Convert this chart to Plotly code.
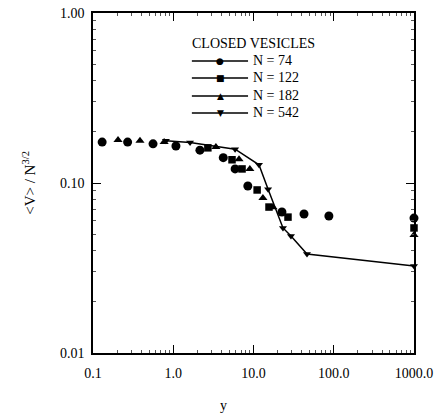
import plotly.graph_objects as go

# ---- data ----
n74_x = [0.13, 0.27, 0.56, 1.08, 2.15, 4.2, 5.9, 8.5, 22.6, 42.6, 87, 1000]
n74_y = [0.174, 0.174, 0.170, 0.165, 0.156, 0.141, 0.121, 0.096, 0.0675, 0.0657, 0.064, 0.0622]

n122_x = [2.7, 5.4, 7.2, 11.1, 15.6, 26.9, 1000]
n122_y = [0.161, 0.137, 0.121, 0.091, 0.0722, 0.063, 0.0544]

n182_x = [0.205, 0.385, 0.77, 3.4, 6.6, 9.0, 13.1, 17.5, 1000]
n182_y = [0.179, 0.177, 0.174, 0.163, 0.138, 0.121, 0.0816, 0.072, 0.0495]

n542_x = [0.81, 1.62, 5.9, 11.7, 15.2, 23.3, 29.3, 46.4, 1000]
n542_y = [0.177, 0.173, 0.158, 0.128, 0.092, 0.0544, 0.0488, 0.0382, 0.0325]

x_tickvals = [0.1, 1, 10, 100, 1000]
x_ticktext = ["0.1", "1.0", "10.0", "100.0", "1000.0"]
y_tickvals = [0.01, 0.1, 1]
y_ticktext = ["0.01", "0.10", "1.00"]

x_minor = [m * 10 ** e for e in range(-1, 3) for m in range(2, 10)]
y_minor = [m * 10 ** e for e in range(-2, 0) for m in range(2, 10)]

x_title = "y"
y_title = "&lt;V&gt; / N<sup>3/2</sup>"

legend_title = "CLOSED VESICLES"
legend_labels = ["N = 74", "N = 122", "N = 182", "N = 542"]
legend_glyphs = ["\u25CF", "\u25A0", "\u25B2", "\u25BC"]

FONT = "Liberation Serif"

fig = go.Figure()
fig.add_trace(go.Scatter(x=n74_x, y=n74_y, mode="markers", name=legend_labels[0],
                         marker=dict(symbol="circle", size=9, color="black"), cliponaxis=False))
fig.add_trace(go.Scatter(x=n122_x, y=n122_y, mode="markers", name=legend_labels[1],
                         marker=dict(symbol="square", size=7.5, color="black"), cliponaxis=False))
fig.add_trace(go.Scatter(x=n182_x, y=n182_y, mode="markers", name=legend_labels[2],
                         marker=dict(symbol="triangle-up", size=8, color="black"), cliponaxis=False))
fig.add_trace(go.Scatter(x=n542_x, y=n542_y, mode="lines+markers", name=legend_labels[3],
                         line=dict(color="black", width=1.5),
                         marker=dict(symbol="triangle-down", size=7, color="black"), cliponaxis=False))

# ---- manual legend (lines with centered marker glyphs) ----
leg_x0, leg_x1, leg_xm, leg_xt = 0.308, 0.483, 0.396, 0.492
leg_ys = [0.859, 0.809, 0.756, 0.706]
fig.add_annotation(x=0.303, y=0.909, xref="paper", yref="paper", text=legend_title,
                   showarrow=False, xanchor="left", yanchor="middle",
                   font=dict(family=FONT, size=14, color="black"))
for lab, gl, yy in zip(legend_labels, legend_glyphs, leg_ys):
    fig.add_shape(type="line", xref="paper", yref="paper", x0=leg_x0, x1=leg_x1, y0=yy, y1=yy,
                  line=dict(color="black", width=1.5))
    fig.add_annotation(x=leg_xm, y=yy, xref="paper", yref="paper", text=gl, showarrow=False,
                       xanchor="center", yanchor="middle",
                       font=dict(family="DejaVu Sans", size=9, color="black"))
    fig.add_annotation(x=leg_xt, y=yy, xref="paper", yref="paper", text=lab, showarrow=False,
                       xanchor="left", yanchor="middle",
                       font=dict(family=FONT, size=14, color="black"))

# axis titles as annotations for exact placement
fig.add_annotation(x=0.408, y=-0.155, xref="paper", yref="paper", text=x_title, showarrow=False,
                   xanchor="center", yanchor="middle", font=dict(family=FONT, size=14, color="black"))
fig.add_annotation(x=-0.2, y=0.5, xref="paper", yref="paper", text=y_title, showarrow=False,
                   textangle=-90, xanchor="center", yanchor="middle",
                   font=dict(family=FONT, size=15, color="black"))

axis_common = dict(showline=True, linecolor="black", linewidth=1.5, mirror="ticks",
                   ticks="inside", ticklen=8, tickwidth=1, tickcolor="black",
                   showgrid=False, zeroline=False, automargin=False,
                   tickfont=dict(family=FONT, size=14, color="black"))

fig.update_xaxes(type="log", range=[-1, 3], tickmode="array", tickvals=x_tickvals,
                 ticktext=x_ticktext, ticklabelstandoff=6,
                 minor=dict(ticks="inside", ticklen=3, tickcolor="#555", tickwidth=1,
                            tickmode="array", tickvals=x_minor),
                 **axis_common)
fig.update_yaxes(type="log", range=[-2, 0], tickmode="array", tickvals=y_tickvals,
                 ticktext=y_ticktext, ticklabelstandoff=4,
                 minor=dict(ticks="inside", ticklen=3, tickcolor="#555", tickwidth=1,
                            tickmode="array", tickvals=y_minor),
                 **axis_common)

fig.update_layout(width=444, height=414, margin=dict(l=93, r=30, t=13, b=61, autoexpand=False),
                  paper_bgcolor="white", plot_bgcolor="white", showlegend=False,
                  font=dict(family=FONT, color="black"))

fig.write_html("out.html", config={"displayModeBar": False},
               post_script="document.body.style.margin='0';document.body.style.padding='0';")
